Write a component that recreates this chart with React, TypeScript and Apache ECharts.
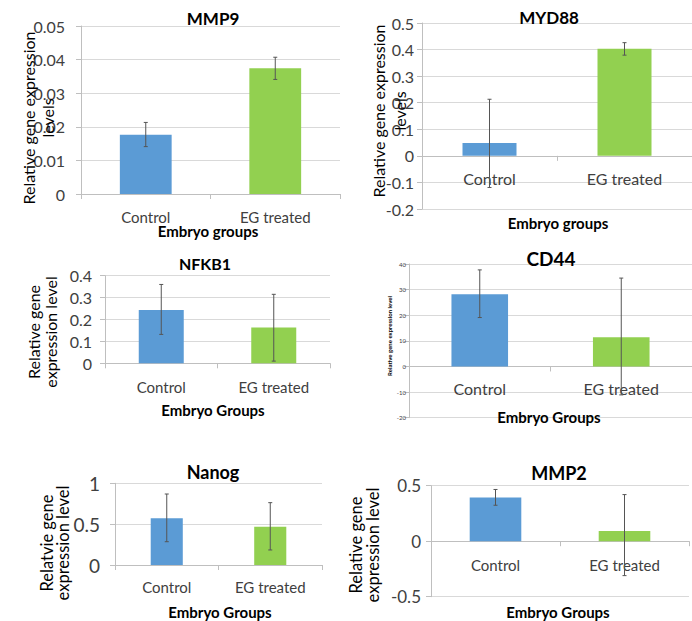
import React, { useEffect, useRef } from "react";
import * as echarts from "echarts";

const categories = ["Control", "EG treated"];
const barColors = ["#5B9BD5", "#92D050"];

const mmp9Values = [0.0176, 0.0374];
const mmp9Low = [0.0141, 0.0341];
const mmp9High = [0.0213, 0.0407];

const myd88Values = [0.048, 0.403];
const myd88Low = [-0.119, 0.379];
const myd88High = [0.213, 0.426];

const nfkb1Values = [0.243, 0.163];
const nfkb1Low = [0.132, 0.01];
const nfkb1High = [0.36, 0.315];

const cd44Values = [28.2, 11.4];
const cd44Low = [19.1, -11.1];
const cd44High = [37.7, 34.5];

const nanogValues = [0.571, 0.469];
const nanogLow = [0.285, 0.184];
const nanogHigh = [0.869, 0.763];

const mmp2Values = [0.394, 0.093];
const mmp2Low = [0.324, -0.31];
const mmp2High = [0.466, 0.42];

const titles = ["MMP9", "MYD88", "NFKB1", "CD44", "Nanog", "MMP2"];
const xNames = ["Embryo groups", "Embryo groups", "Embryo Groups", "Embryo Groups", "Embryo Groups", "Embryo Groups"];
const yNames = [
  "Relative gene expression\nlevels",
  "Relative gene expression\nlevels",
  "Relative gene\nexpression level",
  "Relative gene expression level",
  "Relatvie gene\nexpression level",
  "Relative gene\nexpression level",
];
const yMins = [0, -0.2, 0, -20, 0, -0.5];
const yMaxs = [0.05, 0.5, 0.4, 40, 1, 0.5];
const yIntervals = [0.01, 0.1, 0.1, 10, 0.5, 0.5];

const FONT = "Lato";

// layout (positions/sizes)
const layouts = [
  { grid: { left: 81, top: 26, width: 259, height: 168 }, title: [213, 18, 17], xName: [208, 231], yName: [37.5, 118, 16, 19], tick: 16, tickMargin: 16, cat: 15, catMargin: 15, barWidth: "40%" },
  { grid: { left: 422, top: 23, width: 270, height: 186 }, title: [549, 17, 17], xName: [558, 223], yName: [388.5, 111, 16, 21], tick: 16, tickMargin: 8, cat: 16, catMargin: 15, barWidth: "40%" },
  { grid: { left: 105, top: 275.7, width: 225, height: 87.6 }, title: [205, 263, 16], xName: [213, 410], yName: [41.5, 332, 16, 17], tick: 16, tickMargin: 13, cat: 15, catMargin: 16, barWidth: "40%" },
  { grid: { left: 409, top: 264, width: 283, height: 153.7 }, title: [551, 258, 19], xName: [549, 417], yName: [389, 336, 6, 8], tick: 6, tickMargin: 3, cat: 16, catMargin: 14, barWidth: "40%" },
  { grid: { left: 115, top: 483.3, width: 207, height: 81.7 }, title: [213, 472, 18], xName: [220, 612], yName: [55, 543, 16.5, 16], tick: 19, tickMargin: 15, cat: 15, catMargin: 14, barWidth: "31%" },
  { grid: { left: 431, top: 485.7, width: 258, height: 111 }, title: [559, 473, 18], xName: [558, 612], yName: [364.5, 545, 16.5, 17], tick: 17, tickMargin: 10, cat: 15, catMargin: 16, barWidth: "40%" },
];

const panelValues = [mmp9Values, myd88Values, nfkb1Values, cd44Values, nanogValues, mmp2Values];
const panelLow = [mmp9Low, myd88Low, nfkb1Low, cd44Low, nanogLow, mmp2Low];
const panelHigh = [mmp9High, myd88High, nfkb1High, cd44High, nanogHigh, mmp2High];

function buildOption() {
  const grid: any[] = [];
  const xAxis: any[] = [];
  const yAxis: any[] = [];
  const series: any[] = [];
  const graphic: any[] = [];

  layouts.forEach((L, i) => {
    grid.push({ ...L.grid, containLabel: false });
    // place the category axis where the value axis crosses zero
    const zeroFrac = (0 - yMins[i]) / (yMaxs[i] - yMins[i]);
    const axisOffset = -L.grid.height * zeroFrac;
    xAxis.push({
      type: "category",
      gridIndex: i,
      data: categories,
      position: "bottom",
      offset: axisOffset,
      axisLine: { show: true, onZero: false, lineStyle: { color: "#bfbfbf", width: 1 } },
      axisTick: { show: true, length: 5, lineStyle: { color: "#bfbfbf" } },
      axisLabel: { fontSize: L.cat, color: "#404040", fontFamily: FONT, margin: L.catMargin },
      splitLine: { show: false },
    });
    yAxis.push({
      type: "value",
      gridIndex: i,
      min: yMins[i],
      max: yMaxs[i],
      interval: yIntervals[i],
      axisLine: { show: true, lineStyle: { color: "#bfbfbf", width: 1 } },
      axisTick: { show: true, length: 5, lineStyle: { color: "#bfbfbf" } },
      splitLine: { show: true, lineStyle: { color: "#d9d9d9", width: 1 } },
      axisLabel: { fontSize: L.tick, color: "#404040", fontFamily: FONT, margin: L.tickMargin },
    });
    series.push({
      type: "bar",
      xAxisIndex: i,
      yAxisIndex: i,
      barWidth: L.barWidth,
      data: panelValues[i].map((v, j) => ({ value: v, itemStyle: { color: barColors[j] } })),
      z: 2,
    });
    series.push({
      type: "custom",
      xAxisIndex: i,
      yAxisIndex: i,
      z: 5,
      data: panelValues[i].map((_, j) => [j, panelLow[i][j], panelHigh[i][j]]),
      encode: { x: 0, y: [1, 2] },
      renderItem: (params: any, api: any) => {
        const x = api.value(0);
        const lo = api.coord([x, api.value(1)]);
        const hi = api.coord([x, api.value(2)]);
        const cw = 2;
        const style = { stroke: "#555555", lineWidth: 1 };
        return {
          type: "group",
          children: [
            { type: "line", shape: { x1: lo[0], y1: lo[1], x2: hi[0], y2: hi[1] }, style },
            { type: "line", shape: { x1: hi[0] - cw, y1: hi[1], x2: hi[0] + cw, y2: hi[1] }, style },
            { type: "line", shape: { x1: lo[0] - cw, y1: lo[1], x2: lo[0] + cw, y2: lo[1] }, style },
          ],
        };
      },
    });

    graphic.push({
      type: "text",
      x: L.title[0],
      y: L.title[1],
      style: {
        text: titles[i],
        font: `bold ${L.title[2]}px ${FONT}`,
        fill: "#000000",
        align: "center",
        verticalAlign: "middle",
      },
      z: 10,
    });
    graphic.push({
      type: "text",
      x: L.xName[0],
      y: L.xName[1],
      style: {
        text: xNames[i],
        font: `bold 15px ${FONT}`,
        fill: "#000000",
        align: "center",
        verticalAlign: "middle",
      },
      z: 10,
    });
    graphic.push({
      type: "text",
      x: L.yName[0],
      y: L.yName[1],
      rotation: Math.PI / 2,
      style: {
        text: yNames[i],
        font: `${i === 3 ? "bold " : ""}${L.yName[2]}px ${FONT}`,
        fill: "#000000",
        align: "center",
        verticalAlign: "middle",
        lineHeight: L.yName[3],
      },
      z: 10,
    });
  });

  return {
    animation: false,
    backgroundColor: "#ffffff",
    grid,
    xAxis,
    yAxis,
    series,
    graphic,
  };
}

export default function App() {
  const ref = useRef<HTMLDivElement>(null);
  useEffect(() => {
    if (!ref.current) return;
    const chart = echarts.init(ref.current, null, { renderer: "svg" });
    chart.setOption(buildOption() as any);
    return () => chart.dispose();
  }, []);
  return (
    <div
      ref={ref}
      style={{ position: "fixed", left: 0, top: 0, width: 692, height: 621, background: "#ffffff" }}
    />
  );
}
